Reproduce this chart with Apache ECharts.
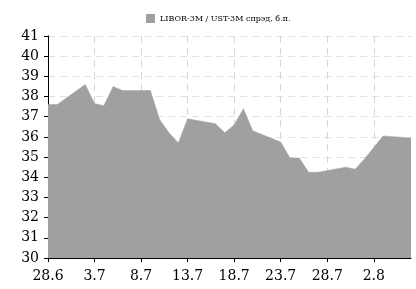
<!DOCTYPE html>
<html>
<head>
<meta charset="utf-8">
<script src="https://cdn.jsdelivr.net/npm/echarts@6/dist/echarts.min.js"></script>
<style>
  html, body { margin: 0; padding: 0; background: #fff; }
  #main { width: 416px; height: 289px; }
</style>
</head>
<body>
<div id="main"></div>
<script>
// дни с 28.6 по 6.8
var days = ['28.6', '29.6', '30.6', '1.7', '2.7', '3.7', '4.7', '5.7', '6.7', '7.7',
    '8.7', '9.7', '10.7', '11.7', '12.7', '13.7', '14.7', '15.7', '16.7', '17.7',
    '18.7', '19.7', '20.7', '21.7', '22.7', '23.7', '24.7', '25.7', '26.7', '27.7',
    '28.7', '29.7', '30.7', '31.7', '1.8', '2.8', '3.8', '4.8', '5.8', '6.8'];

// спрэд, б.п. (null - нет точки, линия идет напрямую)
var spread = [37.6, 37.6, null, null, 38.6, 37.65, 37.55, 38.5, 38.3, null,
    null, 38.3, 36.85, 36.2, 35.7, 36.9, null, null, 36.65, 36.2,
    36.6, 37.4, 36.3, null, null, 35.75, 34.95, 34.95, 34.25, 34.25,
    null, null, 34.5, 34.4, 34.9, null, 36.05, null, null, 35.95];

var yTicks = [30, 31, 32, 33, 34, 35, 36, 37, 38, 39, 40, 41];
var seriesName = 'LIBOR-3M / UST-3M спрэд, б.п.';

var chartDom = document.getElementById('main');
var myChart = echarts.init(chartDom);
var font = 'DejaVu Serif';

var option = {
    animation: false,
    legend: {
        top: 9,
        left: 141,
        itemWidth: 9,
        itemHeight: 9,
        itemGap: 4,
        icon: 'rect',
        textStyle: {fontFamily: font, fontSize: 8, color: '#000'},
        data: [seriesName]
    },
    grid: {left: 48, right: 5, top: 36, bottom: 31},
    xAxis: {
        type: 'category',
        data: days,
        boundaryGap: false,
        axisLine: {lineStyle: {color: '#000', width: 1}},
        axisTick: {
            interval: function (i) { return i % 5 === 0; },
            length: 4,
            lineStyle: {color: '#000'}
        },
        axisLabel: {
            interval: function (i) { return i % 5 === 0; },
            fontFamily: font,
            fontSize: 14,
            color: '#000',
            margin: 11
        },
        splitLine: {
            show: true,
            interval: function (i) { return i % 5 === 0 && i > 0; },
            lineStyle: {color: '#d8d8c4', type: [7, 5], width: 1}
        }
    },
    yAxis: {
        type: 'value',
        min: yTicks[0],
        max: yTicks[yTicks.length - 1],
        interval: 1,
        axisLine: {show: true, lineStyle: {color: '#000', width: 1}},
        axisTick: {show: true, length: 4, lineStyle: {color: '#000'}},
        axisLabel: {fontFamily: font, fontSize: 14, color: '#000', margin: 9},
        splitLine: {lineStyle: {color: '#e2e2e2', type: [7, 5], width: 1}}
    },
    series: [{
        name: seriesName,
        type: 'line',
        data: spread,
        connectNulls: true,
        symbol: 'none',
        itemStyle: {color: '#a0a0a0'},
        lineStyle: {color: '#a0a0a0', width: 0.5},
        areaStyle: {color: '#a0a0a0', opacity: 1}
    }]
};

option && myChart.setOption(option);
</script>
</body>
</html>
